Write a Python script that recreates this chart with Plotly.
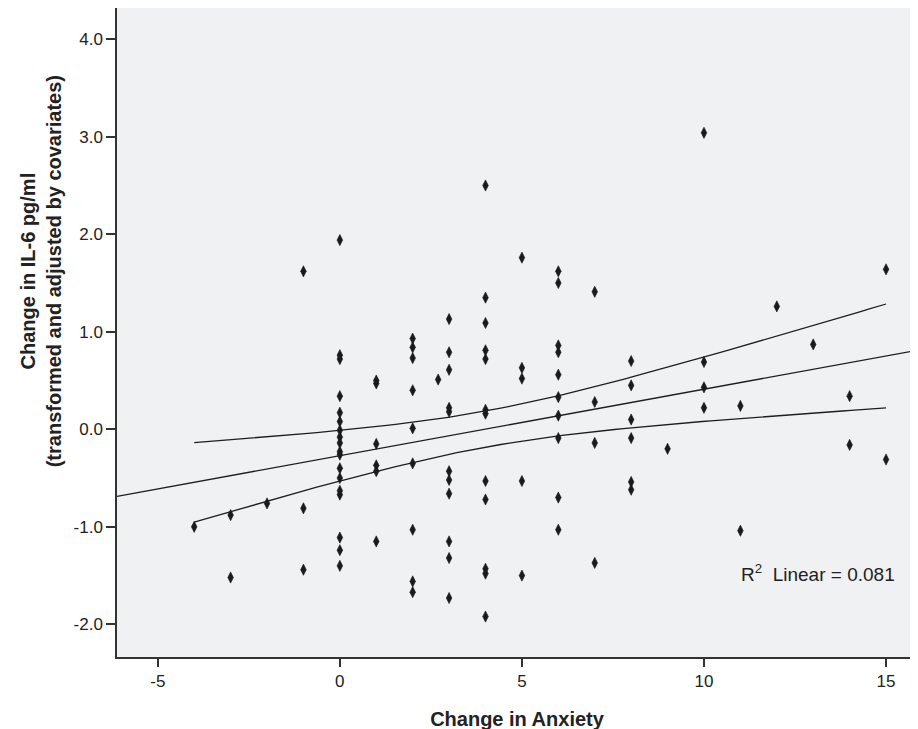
import numpy as np
import plotly.graph_objects as go

# ---- data ----
anxiety = ([-4] + [-3] * 2 + [-2] + [-1] * 3 + [0] * 18 + [1] * 6 + [2] * 9 + [2.7]
           + [3] * 11 + [4] * 12 + [5] * 5 + [6] * 10 + [7] * 4 + [8] * 6 + [9]
           + [10] * 4 + [11] * 2 + [12] + [13] + [14] * 2 + [15] * 2)
il6 = ([-1.00]
       + [-0.88, -1.52]
       + [-0.76]
       + [1.62, -0.81, -1.44]
       + [1.94, 0.76, 0.72, 0.34, 0.17, 0.08, -0.01, -0.08, -0.14, -0.23, -0.26,
          -0.40, -0.50, -0.63, -0.67, -1.11, -1.24, -1.40]
       + [0.50, 0.47, -0.15, -0.37, -0.43, -1.15]
       + [0.93, 0.84, 0.73, 0.40, 0.01, -0.35, -1.03, -1.56, -1.67]
       + [0.51]
       + [1.13, 0.79, 0.61, 0.22, 0.18, -0.43, -0.52, -0.66, -1.15, -1.32, -1.73]
       + [2.50, 1.35, 1.09, 0.81, 0.72, 0.20, 0.16, -0.53, -0.72, -1.43, -1.48, -1.92]
       + [1.76, 0.63, 0.52, -0.53, -1.50]
       + [1.62, 1.50, 0.86, 0.79, 0.56, 0.33, 0.14, -0.09, -0.70, -1.03]
       + [1.41, 0.28, -0.14, -1.37]
       + [0.70, 0.45, 0.10, -0.09, -0.54, -0.62]
       + [-0.20]
       + [3.04, 0.69, 0.43, 0.22]
       + [0.24, -1.04]
       + [1.26]
       + [0.87]
       + [0.34, -0.16]
       + [1.64, -0.31])
x_ticks = [-5, 0, 5, 10, 15]
y_ticks = [-2.0, -1.0, 0.0, 1.0, 2.0, 3.0, 4.0]
r2_label = "R<sup>2</sup>  Linear = 0.081"
x_title = "<b>Change in Anxiety</b>"
y_title = "<b>Change in IL-6 pg/ml<br>(transformed and adjusted by covariates)</b>"

x_range = [-6.12, 15.85]
y_range = [-2.335, 4.32]

# ---- linear fit and 95% CI of the mean, derived from the data ----
xa = np.array(anxiety, dtype=float)
ya = np.array(il6, dtype=float)
n = len(xa)
slope, intercept = np.polyfit(xa, ya, 1)
resid = ya - (intercept + slope * xa)
s = np.sqrt(np.sum(resid ** 2) / (n - 2))
sxx = np.sum((xa - xa.mean()) ** 2)
t_crit = 1.98
grid = np.linspace(xa.min(), xa.max(), 80)
fit_g = intercept + slope * grid
half = t_crit * s * np.sqrt(1.0 / n + (grid - xa.mean()) ** 2 / sxx)

FONT = "Liberation Sans, Arial, Helvetica, sans-serif"
line_col = "#1e1e1e"
fig = go.Figure()
fig.add_trace(go.Scatter(x=x_range, y=[intercept + slope * v for v in x_range],
                         mode="lines", line=dict(color=line_col, width=1.3),
                         hoverinfo="skip", showlegend=False))
fig.add_trace(go.Scatter(x=grid, y=fit_g + half, mode="lines",
                         line=dict(color=line_col, width=1.3), showlegend=False))
fig.add_trace(go.Scatter(x=grid, y=fit_g - half, mode="lines",
                         line=dict(color=line_col, width=1.3), showlegend=False))
fig.add_trace(go.Scatter(x=anxiety, y=il6, mode="markers",
                         marker=dict(symbol="diamond-tall", size=8, color="#1a1a1a",
                                     line=dict(width=0.6, color="#1a1a1a")),
                         showlegend=False))

fig.add_annotation(x=10.95, y=-1.47, xref="x", yref="y", text=r2_label,
                   showarrow=False, xanchor="left", yanchor="middle",
                   font=dict(size=19, color="#222222", family=FONT))

# y-axis title as a rotated annotation (placed like the reference)
fig.add_annotation(x=-0.095, y=1.62, xref="paper", yref="y", text=y_title,
                   textangle=-90, showarrow=False, xanchor="center", yanchor="middle",
                   align="center",
                   font=dict(size=20, color="#222222", family=FONT))

axis_font = dict(size=17, color="#222222", family=FONT)
fig.update_layout(
    width=918, height=729,
    margin=dict(l=109, r=9, t=0, b=80),
    paper_bgcolor="white", plot_bgcolor="#f0f1f3",
    font=axis_font,
    xaxis=dict(range=x_range, tickvals=x_ticks, ticktext=[str(v) for v in x_ticks],
               showgrid=False, zeroline=False, showline=True, linecolor="#333333",
               linewidth=1.5, mirror=True, ticks="outside", ticklen=8, tickwidth=1.5,
               tickcolor="#333333", tickfont=axis_font, automargin=False,
               title=dict(text=x_title, standoff=22,
                          font=dict(size=20, color="#222222", family=FONT))),
    yaxis=dict(range=y_range, tickvals=y_ticks, ticktext=[f"{v:.1f}" for v in y_ticks],
               showgrid=False, zeroline=False, showline=True, linecolor="#333333",
               linewidth=1.5, mirror=True, ticks="outside", ticklen=9, tickwidth=1.5,
               tickcolor="#333333", tickfont=axis_font, automargin=False),
)

fig.write_html("out.html")
